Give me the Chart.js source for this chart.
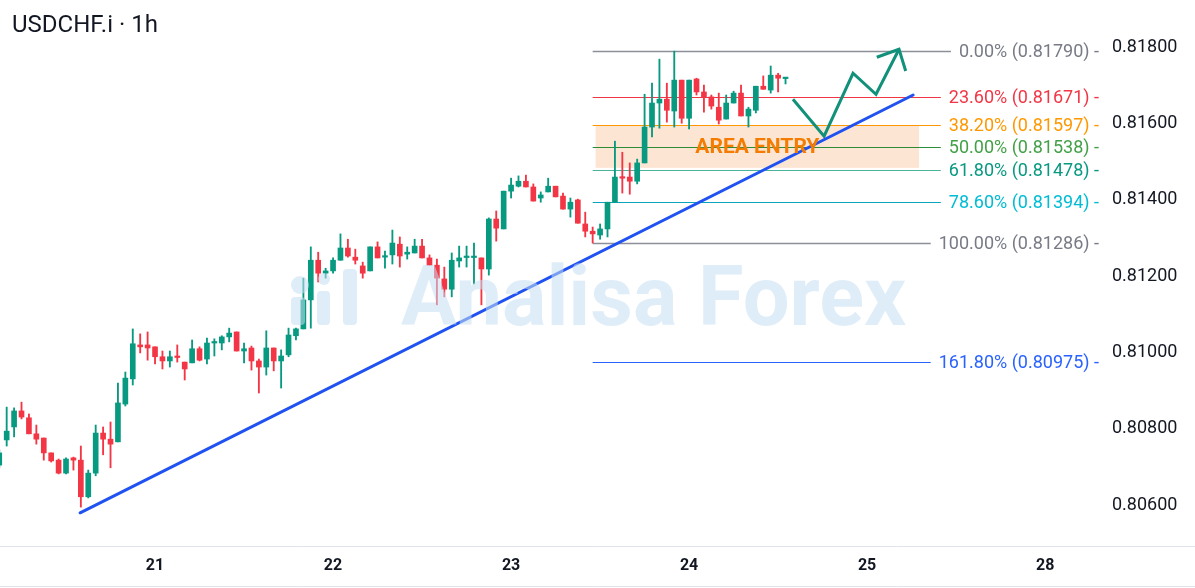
<!DOCTYPE html>
<html><head><meta charset="utf-8">
<script src="https://cdn.jsdelivr.net/npm/chart.js@4.4.1/dist/chart.umd.min.js"></script>
<style>html,body{margin:0;padding:0;background:#fff;overflow:hidden}#wrap{width:1195px;height:588px;position:relative}</style>
</head><body><div id="wrap"><canvas id="c" width="1195" height="588"></canvas></div>
<script>
// ---------- data ----------
const chartTitle = 'USDCHF.i · 1h';
const firstHour = -21; // hours relative to day 21 00:00 (weekend removed)
const opens = [
0.80705,0.80771,0.80805,0.80847,0.80829,0.80787,0.80776,0.80737,0.80718,0.80684,
0.80724,0.80718,0.80622,0.80684,0.80789,0.80773,0.80766,0.80865,0.80931,0.81020,
0.81020,0.81015,0.80989,0.80978,0.80991,0.80975,0.80973,0.81010,0.80983,0.81025,
0.81025,0.81041,0.81054,0.81004,0.81012,0.80978,0.80962,0.81012,0.80978,0.80994,
0.81044,0.81062,0.81138,0.81242,0.81208,0.81214,0.81242,0.81274,0.81250,0.81227,
0.81214,0.81277,0.81250,0.81256,0.81284,0.81258,0.81261,0.81279,0.81248,0.81229,
0.81193,0.81166,0.81240,0.81249,0.81249,0.81248,0.81219,0.81350,0.81324,0.81423,
0.81436,0.81449,0.81434,0.81405,0.81421,0.81436,0.81410,0.81376,0.81400,0.81337,
0.81318,0.81308,0.81324,0.81394,0.81460,0.81460,0.81449,0.81497,0.81591,0.81654,
0.81664,0.81633,0.81714,0.81614,0.81717,0.81683,0.81670,0.81643,0.81612,0.81654,
0.81680,0.81620,0.81635,0.81698,0.81688,0.81727,0.81718];
const closes = [
0.80737,0.80794,0.80847,0.80831,0.80787,0.80773,0.80737,0.80716,0.80684,0.80721,
0.80718,0.80622,0.80684,0.80789,0.80773,0.80760,0.80868,0.80933,0.81023,0.81015,
0.81012,0.80989,0.80978,0.80989,0.80987,0.80957,0.81010,0.80980,0.81025,0.81028,
0.81041,0.81051,0.81004,0.81010,0.80978,0.80962,0.81012,0.80978,0.80991,0.81046,
0.81062,0.81138,0.81242,0.81208,0.81214,0.81242,0.81274,0.81253,0.81242,0.81208,
0.81277,0.81248,0.81253,0.81287,0.81253,0.81263,0.81279,0.81248,0.81229,0.81195,
0.81166,0.81242,0.81248,0.81250,0.81250,0.81219,0.81350,0.81326,0.81423,0.81439,
0.81449,0.81434,0.81397,0.81413,0.81436,0.81408,0.81376,0.81394,0.81339,0.81318,
0.81311,0.81324,0.81394,0.81460,0.81457,0.81449,0.81497,0.81591,0.81654,0.81664,
0.81635,0.81714,0.81614,0.81714,0.81683,0.81670,0.81646,0.81609,0.81654,0.81680,
0.81620,0.81638,0.81698,0.81690,0.81727,0.81719,0.81719];
const highs = [
0.80745,0.80857,0.80855,0.80870,0.80839,0.80810,0.80776,0.80737,0.80721,0.80724,
0.80726,0.80755,0.80692,0.80810,0.80805,0.80818,0.80920,0.80949,0.81062,0.81049,
0.81054,0.81015,0.81004,0.81004,0.81020,0.80975,0.81033,0.81015,0.81038,0.81036,
0.81044,0.81064,0.81054,0.81025,0.81017,0.80983,0.81057,0.81012,0.81007,0.81064,
0.81064,0.81195,0.81277,0.81263,0.81221,0.81248,0.81311,0.81297,0.81271,0.81237,
0.81277,0.81290,0.81266,0.81321,0.81303,0.81277,0.81297,0.81297,0.81256,0.81245,
0.81224,0.81261,0.81279,0.81279,0.81287,0.81248,0.81353,0.81371,0.81423,0.81457,
0.81463,0.81465,0.81442,0.81421,0.81457,0.81436,0.81418,0.81405,0.81402,0.81368,
0.81329,0.81337,0.81394,0.81554,0.81525,0.81497,0.81507,0.81677,0.81706,0.81769,
0.81706,0.81790,0.81714,0.81714,0.81719,0.81701,0.81675,0.81680,0.81675,0.81685,
0.81701,0.81643,0.81698,0.81725,0.81751,0.81732,0.81721];
const lows = [
0.80698,0.80755,0.80779,0.80826,0.80787,0.80760,0.80718,0.80713,0.80682,0.80682,
0.80692,0.80595,0.80619,0.80677,0.80732,0.80698,0.80766,0.80860,0.80915,0.80999,
0.80980,0.80970,0.80957,0.80962,0.80975,0.80928,0.80973,0.80978,0.80970,0.80991,
0.81007,0.81028,0.81004,0.80973,0.80954,0.80894,0.80941,0.80952,0.80907,0.80989,
0.81033,0.81062,0.81064,0.81185,0.81195,0.81208,0.81242,0.81250,0.81232,0.81195,
0.81214,0.81248,0.81221,0.81232,0.81224,0.81245,0.81261,0.81248,0.81229,0.81125,
0.81146,0.81146,0.81224,0.81224,0.81180,0.81125,0.81203,0.81292,0.81324,0.81405,
0.81434,0.81434,0.81397,0.81394,0.81421,0.81408,0.81376,0.81355,0.81339,0.81303,
0.81287,0.81297,0.81303,0.81394,0.81418,0.81415,0.81442,0.81497,0.81565,0.81588,
0.81604,0.81591,0.81601,0.81586,0.81675,0.81630,0.81638,0.81599,0.81612,0.81654,
0.81620,0.81591,0.81628,0.81690,0.81680,0.81683,0.81704];
const dayTickHours = [0, 24, 48, 72, 96, 120];
const dayTickLabels = ['21', '22', '23', '24', '25', '28'];
const priceTicks = [0.806, 0.808, 0.810, 0.812, 0.814, 0.816, 0.818];
const fibRatios = ['0.00%', '23.60%', '38.20%', '50.00%', '61.80%', '78.60%', '100.00%', '161.80%'];
const fibPrices = [0.81790, 0.81671, 0.81597, 0.81538, 0.81478, 0.81394, 0.81286, 0.80975];
const fibStartHour = 59;
const trendHours = [-10.1, 102.2];
const trendPrices = [0.80580, 0.81675];
const pathHours = [86.0, 90.2, 94.1, 97.2, 100.3];
const pathPrices = [0.81664, 0.81567, 0.81732, 0.81677, 0.81795];
const headHours = [97.3, 100.3, 101.2];
const headPrices = [0.81774, 0.81795, 0.81738];
const zoneHours = [59.4, 103.0];
const zonePrices = [0.81594, 0.81484];
const zoneLabel = 'AREA ENTRY';
const watermarkText = 'Analisa Forex';
const xRange = [-20.9, 127.8];
const yRange = [0.80493, 0.81924];

// ---------- styles ----------
const UP = '#089981', DOWN = '#f23645';
const fibLineColors = ['#8c8f99', '#f23645', '#ff9800', '#2e8b36', '#4bb39a', '#0aa5bd', '#8c8f99', '#2962ff'];
const fibTextColors = ['#787b86', '#f23645', '#ff9800', '#43a047', '#089981', '#00bcd4', '#787b86', '#2962ff'];
const FONT = 'Roboto, "Noto Sans", sans-serif';

const hours = opens.map((_, i) => firstHour + i);
const candleColors = opens.map((o, i) => closes[i] >= o ? UP : DOWN);
const wickData = hours.map((h, i) => ({x: h, y: [lows[i], highs[i]]}));
const bodyData = hours.map((h, i) => ({x: h, y: [Math.min(opens[i], closes[i]), Math.max(opens[i], closes[i])]}));
const toPts = (xs, ys) => xs.map((x, i) => ({x: x, y: ys[i]}));

const overlayPlugin = {
  id: 'overlay',
  beforeDatasetsDraw(chart) {
    const {ctx, chartArea: a, scales: {x, y}} = chart;
    ctx.save();
    const zx1 = x.getPixelForValue(zoneHours[0]), zx2 = x.getPixelForValue(zoneHours[1]);
    const zy1 = y.getPixelForValue(zonePrices[0]), zy2 = y.getPixelForValue(zonePrices[1]);
    ctx.fillStyle = 'rgba(247,160,100,0.28)';
    ctx.fillRect(zx1, zy1, zx2 - zx1, zy2 - zy1);
    ctx.font = '18px ' + FONT;
    ctx.textBaseline = 'middle';
    ctx.textAlign = 'right';
    const xs = x.getPixelForValue(fibStartHour);
    const textRight = a.right - 4;
    fibPrices.forEach((p, i) => {
      const py = Math.round(y.getPixelForValue(p)) + 0.5;
      const label = fibRatios[i] + ' (' + p.toFixed(5) + ') -';
      const w = ctx.measureText(label).width;
      ctx.strokeStyle = fibLineColors[i];
      ctx.lineWidth = (i === 0 || i === 6) ? 1.5 : 1;
      ctx.beginPath();
      ctx.moveTo(xs, py);
      ctx.lineTo(textRight - w - 8, py);
      ctx.stroke();
      ctx.fillStyle = fibTextColors[i];
      ctx.fillText(label, textRight, py + 1);
    });
    ctx.restore();
  },
  afterDatasetsDraw(chart) {
    const {ctx, chartArea: a, scales: {x, y}} = chart;
    ctx.save();
    const cx = (x.getPixelForValue(zoneHours[0]) + x.getPixelForValue(zoneHours[1])) / 2;
    const cy = (y.getPixelForValue(zonePrices[0]) + y.getPixelForValue(zonePrices[1])) / 2;
    ctx.font = 'bold 21px ' + FONT;
    ctx.fillStyle = '#f57c00';
    ctx.textAlign = 'center';
    ctx.textBaseline = 'middle';
    ctx.fillText(zoneLabel, cx, cy + 1);
    // watermark
    ctx.fillStyle = 'rgba(196,222,242,0.55)';
    ctx.font = 'bold 83px ' + FONT;
    ctx.textAlign = 'left';
    ctx.textBaseline = 'alphabetic';
    const wx = a.left + 401, wy = a.top + 325;
    ctx.fillText(watermarkText, wx, wy);
    const rr = (x0, y0, w, h, r) => { ctx.beginPath(); ctx.roundRect(x0, y0, w, h, r); ctx.fill(); };
    rr(wx - 110, wy - 28, 14, 28, 4);
    ctx.beginPath(); ctx.arc(wx - 101, wy - 40, 9, 0, Math.PI * 2); ctx.fill();
    rr(wx - 84, wy - 34, 13, 34, 4);
    ctx.beginPath(); ctx.arc(wx - 77, wy - 46, 6, 0, Math.PI * 2); ctx.fill();
    rr(wx - 58, wy - 56, 14, 56, 4);
    ctx.restore();
  },
  afterDraw(chart) {
    const {ctx, chartArea: a} = chart;
    ctx.save();
    ctx.strokeStyle = '#e0e3eb';
    ctx.lineWidth = 1;
    ctx.beginPath();
    ctx.moveTo(0, a.bottom + 0.5); ctx.lineTo(chart.width, a.bottom + 0.5);
    ctx.moveTo(0, chart.height - 1.5); ctx.lineTo(chart.width, chart.height - 1.5);
    ctx.stroke();
    ctx.fillStyle = '#131722';
    ctx.font = '24px ' + FONT;
    ctx.textAlign = 'left';
    ctx.textBaseline = 'alphabetic';
    ctx.fillText(chartTitle, 12, 32);
    ctx.restore();
  }
};

new Chart(document.getElementById('c'), {
  type: 'bar',
  data: {
    datasets: [
      {type: 'line', data: toPts(trendHours, trendPrices), borderColor: '#1f52f0', borderWidth: 3,
       pointRadius: 0, borderCapStyle: 'round', order: 0, clip: false},
      {type: 'line', data: toPts(pathHours, pathPrices), borderColor: '#11907a', borderWidth: 3,
       pointRadius: 0, borderJoinStyle: 'miter', order: 0, clip: false},
      {type: 'line', data: toPts(headHours, headPrices), borderColor: '#11907a', borderWidth: 3,
       pointRadius: 0, borderJoinStyle: 'miter', order: 0, clip: false},
      {data: bodyData, backgroundColor: candleColors, barThickness: 5, minBarLength: 1.5,
       grouped: false, borderWidth: 0, order: 1},
      {data: wickData, backgroundColor: candleColors, barThickness: 1.2,
       grouped: false, borderWidth: 0, order: 2}
    ]
  },
  options: {
    responsive: false,
    animation: false,
    events: [],
    layout: {padding: 0, autoPadding: false},
    plugins: {legend: {display: false}, tooltip: {enabled: false}, title: {display: false}},
    scales: {
      x: {
        type: 'linear', offset: false, min: xRange[0], max: xRange[1],
        grid: {display: false, drawTicks: false}, border: {display: false},
        afterBuildTicks: s => { s.ticks = dayTickHours.map(v => ({value: v})); },
        afterFit: s => { s.height = 42; s.paddingLeft = 0; s.paddingRight = 0; },
        ticks: {
          autoSkip: false, maxRotation: 0, padding: 10, color: '#131722',
          font: {family: FONT, size: 16, weight: 'bold'},
          callback: v => dayTickLabels[dayTickHours.indexOf(v)]
        }
      },
      y: {
        type: 'linear', position: 'right', min: yRange[0], max: yRange[1],
        grid: {display: false, drawTicks: false}, border: {display: false},
        afterBuildTicks: s => { s.ticks = priceTicks.map(v => ({value: v})); },
        afterFit: s => { s.width = 92; s.paddingTop = 0; s.paddingBottom = 0; },
        ticks: {padding: 9, color: '#131722', font: {family: FONT, size: 18},
          callback: v => v.toFixed(5)}
      }
    }
  },
  plugins: [overlayPlugin]
});
</script></body></html>
